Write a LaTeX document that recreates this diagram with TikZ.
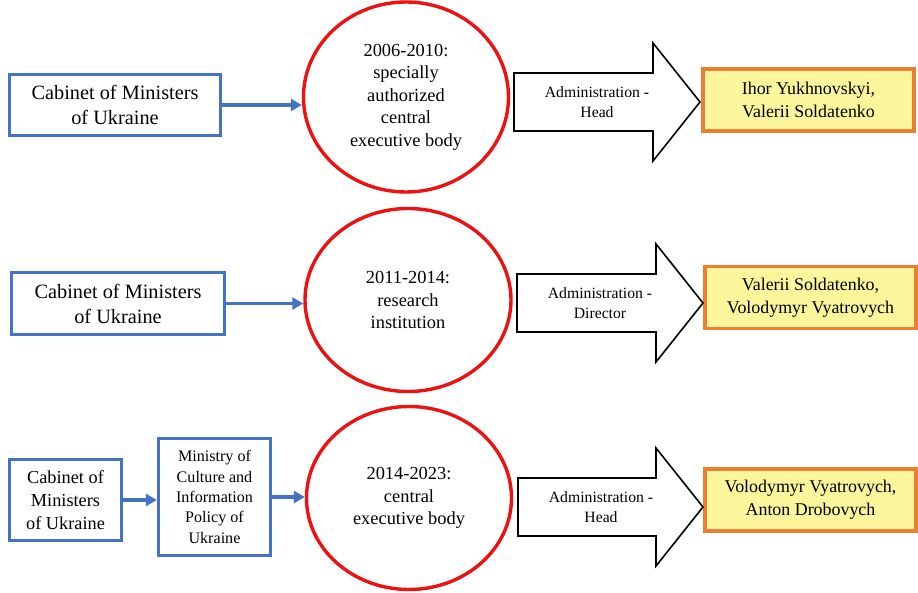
\documentclass[tikz,border=0pt]{standalone}
\usepackage{fontspec}
\setmainfont{Liberation Serif}
\usetikzlibrary{arrows.meta,shapes.geometric,calc}
\definecolor{orgblue}{HTML}{4472C4}
\definecolor{periodred}{HTML}{EE1111}
\definecolor{nameorange}{HTML}{ED7D31}
\definecolor{namefill}{HTML}{FBF69C}
\tikzset{orgbox/.style={draw=orgblue,line width=3.4pt,align=center,inner sep=0pt},
  cabtext/.style={font=\fontsize{20.3}{25}\selectfont},
  periodnode/.style={ellipse,draw=periodred,line width=3.4pt,align=center,inner sep=0pt,font=\fontsize{18.4}{22.5}\selectfont},
  namebox/.style={draw=nameorange,fill=namefill,line width=3.4pt,align=center,inner sep=0pt,minimum width=211pt,minimum height=62pt,font=\fontsize{17.9}{23}\selectfont},
  linkarrow/.style={-{Triangle[length=11pt,width=12pt]},draw=orgblue,line width=3.4pt},
  blockarrow/.style={draw=black,line width=1.6pt,line join=miter},
  blocklabel/.style={align=center,inner sep=0pt,font=\fontsize{15.7}{19.5}\selectfont}}
\begin{document}
\begin{tikzpicture}[x=1pt,y=-1pt]
\useasboundingbox (0,0) rectangle (918,593);
% row 1: 2006-2010
\node[orgbox,cabtext,minimum width=211pt,minimum height=61pt] (cab1) at (115,105) {Cabinet of Ministers\\of Ukraine};
\node[periodnode,minimum width=205pt,minimum height=190pt] (ell1) at (406,97) {2006-2010:\\specially\\authorized\\central\\executive body};
\node[namebox] (name1) at (808.5,100) {Ihor Yukhnovskyi,\\Valerii Soldatenko};
\draw[linkarrow] (cab1.east) -- (cab1.east -| ell1.west);
% row 2: 2011-2014
\node[orgbox,cabtext,minimum width=213pt,minimum height=62pt] (cab2) at (118,303.5) {Cabinet of Ministers\\of Ukraine};
\node[periodnode,minimum width=206pt,minimum height=183pt] (ell2) at (408,300) {2011-2014:\\research\\institution};
\node[namebox] (name2) at (810.5,297.5) {Valerii Soldatenko,\\Volodymyr Vyatrovych};
\draw[linkarrow] (cab2.east) -- (cab2.east -| ell2.west);
% row 3: 2014-2023
\node[orgbox,minimum width=112pt,minimum height=81pt,font=\fontsize{18.3}{23}\selectfont] (cab3) at (65.5,500) {Cabinet of\\Ministers\\of Ukraine};
\node[orgbox,minimum width=112pt,minimum height=117pt,font=\fontsize{16.1}{20.3}\selectfont] (min3) at (214.5,497) {Ministry of\\Culture and\\Information\\Policy of\\Ukraine};
\node[periodnode,minimum width=205pt,minimum height=183pt] (ell3) at (409,498) {2014-2023:\\central\\executive body};
\node[namebox] (name3) at (810.5,500) {Volodymyr Vyatrovych,\\Anton Drobovych};
\draw[linkarrow] (cab3.east) -- (cab3.east -| min3.west);
\draw[linkarrow] (min3.east) -- (min3.east -| ell3.west);
% block arrows
\coordinate (tail1) at (514,102); \coordinate (tip1) at (700,102);
\coordinate (tail2) at (517,303); \coordinate (tip2) at (703,303);
\coordinate (tail3) at (518,507); \coordinate (tip3) at (703,507);
\foreach \r/\lab in {1/{Administration -\\Head},2/{Administration -\\Director},3/{Administration -\\Head}} {
\draw[blockarrow] ($(tail\r)+(0,-29)$) -| ($(tip\r)+(-47,-59)$) -- (tip\r) -- ($(tip\r)+(-47,59)$) |- ($(tail\r)+(0,29)$) -- cycle;
\node[blocklabel] (lab\r) at ($(tail\r)+(83,0)$) {\lab};}
\end{tikzpicture}
\end{document}
